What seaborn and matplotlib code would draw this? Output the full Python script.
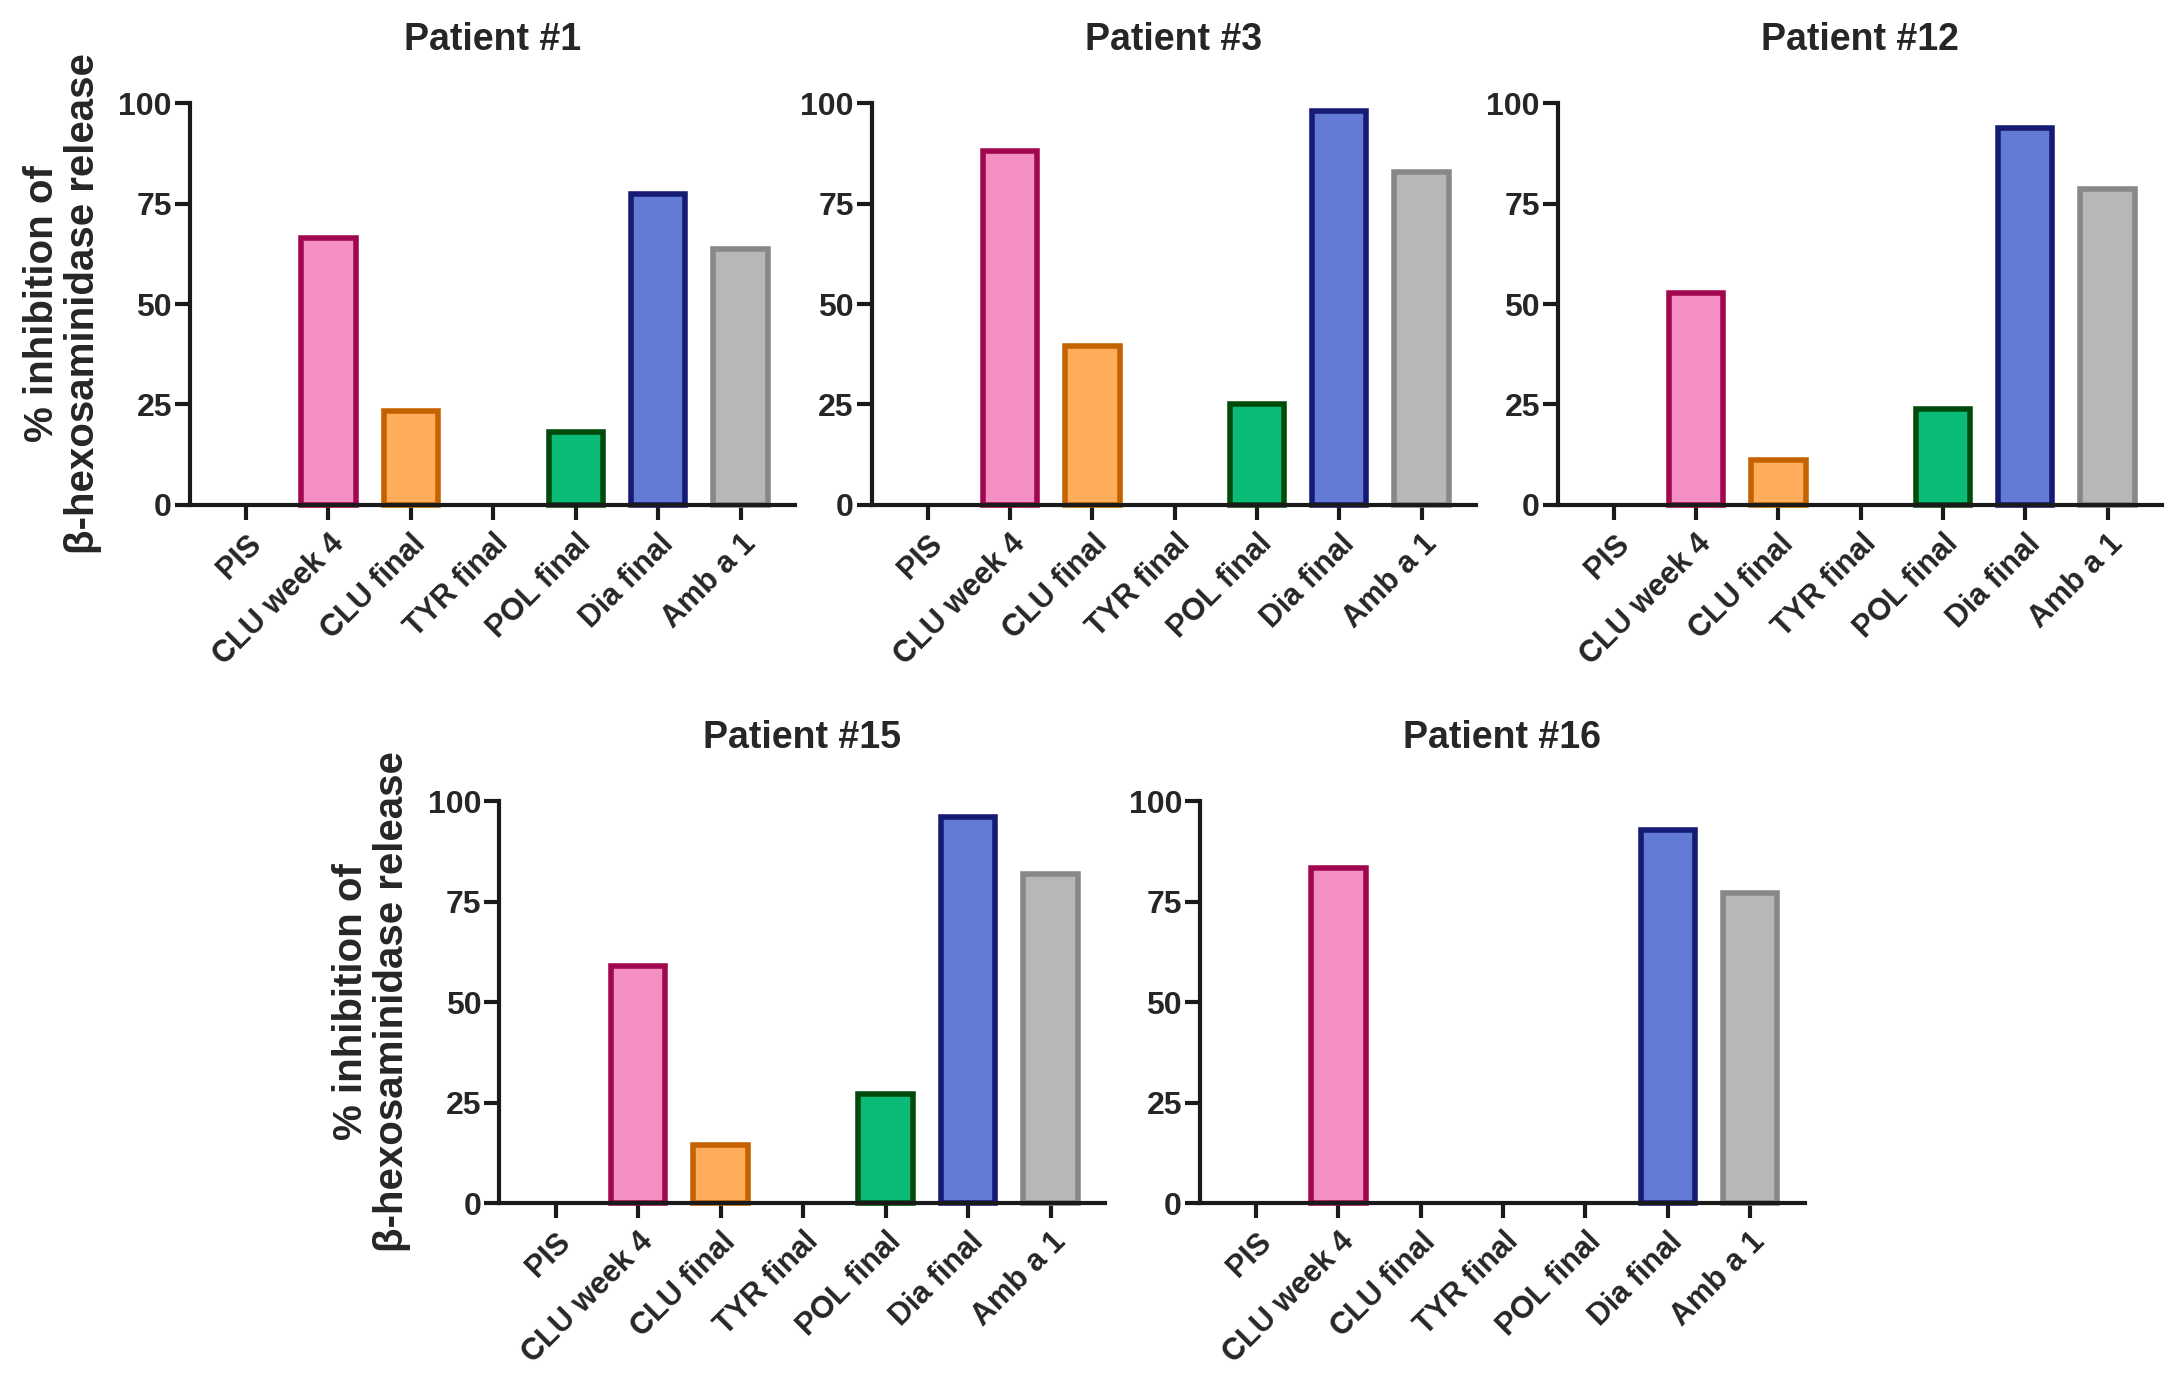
import matplotlib
matplotlib.use("Agg")
import matplotlib.pyplot as plt
import seaborn as sns
import pandas as pd

categories = ["PIS", "CLU week 4", "CLU final", "TYR final", "POL final", "Dia final", "Amb a 1"]

patient_1 = [0, 66.5, 23.3, 0, 18.2, 77.4, 63.8]
patient_3 = [0, 88.0, 39.6, 0, 25.2, 98.0, 82.8]
patient_12 = [0, 52.7, 11.2, 0, 23.9, 93.7, 78.6]
patient_15 = [0, 58.9, 14.5, 0, 27.2, 96.1, 81.9]
patient_16 = [0, 83.3, 0, 0, 0, 92.8, 77.2]

titles = ["Patient #1", "Patient #3", "Patient #12", "Patient #15", "Patient #16"]

fill_colors = ["#FFFFFF", "#F48FC4", "#FFAD5A", "#FFFFFF", "#0BBB78", "#647BD6", "#B7B7B7"]
edge_colors = ["#FFFFFF", "#A0074E", "#C46200", "#FFFFFF", "#004A0C", "#151A73", "#888888"]

sns.set_theme(style="ticks")
plt.rcParams['font.family'] = ['Liberation Sans', 'DejaVu Sans']
plt.rcParams['font.weight'] = 'bold'

fig = plt.figure(figsize=(21.82, 13.79), dpi=100)

# axes positions (left, bottom, width, height) in figure fractions
positions = [
    [0.0871, 0.6338, 0.2772, 0.2915],
    [0.3996, 0.6338, 0.2768, 0.2915],
    [0.7140, 0.6338, 0.2768, 0.2915],
    [0.2289, 0.1276, 0.2775, 0.2915],
    [0.5500, 0.1276, 0.2770, 0.2915],
]

all_values = [patient_1, patient_3, patient_12, patient_15, patient_16]

for i, (vals, title, pos) in enumerate(zip(all_values, titles, positions)):
    ax = fig.add_axes(pos)
    df = pd.DataFrame({"cat": categories, "val": vals})
    sns.barplot(data=df, x="cat", y="val", hue="cat", order=categories,
                hue_order=categories, palette=fill_colors, legend=False,
                saturation=1, width=0.66, ax=ax, zorder=3)
    for patch, ec, v in zip(ax.patches, edge_colors, vals):
        if v == 0:
            patch.set_visible(False)
        else:
            patch.set_edgecolor(ec)
            patch.set_linewidth(4)
            patch.set_clip_on(False)

    ax.set_ylim(0, 100)
    ax.set_xlim(-0.68, 6.66)
    ax.set_yticks([0, 25, 50, 75, 100])
    ax.set_xlabel("")
    ax.set_ylabel("")
    sns.despine(ax=ax)
    for s in ["left", "bottom"]:
        ax.spines[s].set_linewidth(3)
        ax.spines[s].set_color("#1a1a1a")
        ax.spines[s].set_zorder(4)
    ax.tick_params(axis="both", direction="out", length=11, width=3, color="#1a1a1a")
    ax.tick_params(axis="y", labelsize=23, pad=2)
    ax.tick_params(axis="x", labelsize=22, pad=6)
    plt.setp(ax.get_xticklabels(), rotation=45, ha="right", rotation_mode="anchor",
             fontweight="bold")
    plt.setp(ax.get_yticklabels(), fontweight="bold")
    ax.set_title(title, fontsize=27, fontweight="bold", pad=38)

    if i in (0, 3):
        ax.set_ylabel("% inhibition of\n\u03b2-hexosaminidase release",
                      fontsize=29, fontweight="bold", labelpad=12, linespacing=1.1)

plt.savefig("out.png", dpi=100)
plt.close()
